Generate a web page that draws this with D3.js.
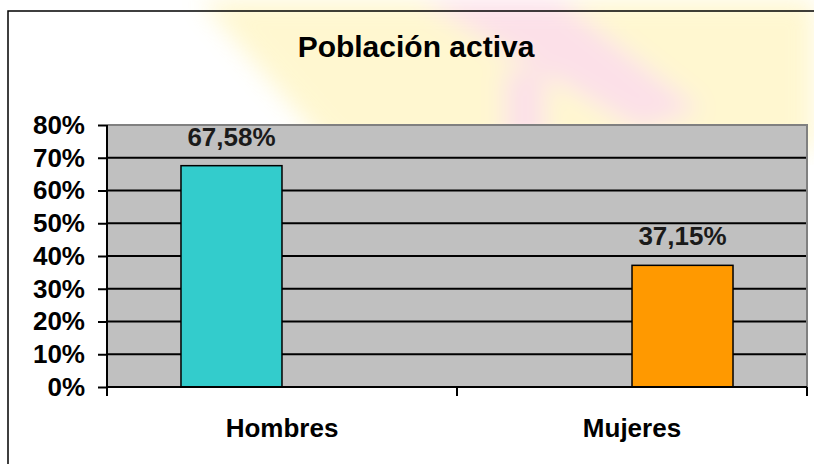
<!DOCTYPE html>
<html>
<head>
<meta charset="utf-8">
<script src="https://cdn.jsdelivr.net/npm/d3@7"></script>
<style>
  body { margin: 0; background: #fff; }
  svg { display: block; font-family: "Liberation Sans", Arial, sans-serif; }
</style>
</head>
<body>
<div id="chart"></div>
<script>
// data
var categories = ["Hombres", "Mujeres"];
var values = [0.6758, 0.3715];
var colors = ["#33CCCC", "#FF9900"];
var yTicks = [0, 0.1, 0.2, 0.3, 0.4, 0.5, 0.6, 0.7, 0.8];
var title = "Población activa";

var width = 814, height = 464;
var plot = {left: 107, right: 807, top: 125, bottom: 387};

var svg = d3.select("#chart").append("svg")
    .attr("width", width)
    .attr("height", height);

// faint watermark behind the chart
var defs = svg.append("defs");
defs.append("filter").attr("id", "soft")
    .append("feGaussianBlur").attr("stdDeviation", 12);
var wm = svg.append("g").attr("filter", "url(#soft)").attr("opacity", 0.35);
wm.append("path")
    .attr("d", "M200,0 L814,0 L814,150 L330,150 Z")
    .attr("fill", "#ffe97a");
wm.append("path")
    .attr("d", "M420,0 L560,0 L700,110 L640,130 Z")
    .attr("fill", "#f7a8c0");
wm.append("path")
    .attr("d", "M505,70 L545,70 L545,150 L505,150 Z")
    .attr("fill", "#f7a8c0");

// outer chart border (runs off right and bottom)
svg.append("rect")
    .attr("x", 8).attr("y", 11)
    .attr("width", 830).attr("height", 480)
    .attr("fill", "none")
    .attr("stroke", "#000")
    .attr("stroke-width", 1.5);

var y = d3.scaleLinear()
    .domain([0, 0.8])
    .range([plot.bottom, plot.top]);

var x = d3.scaleBand()
    .domain(categories)
    .range([plot.left, plot.right]);

// bar centres sit off the band centres in the original
var xBar = d3.scalePoint()
    .domain(categories)
    .range([plot.left, plot.right])
    .padding(0.276);
var barWidth = 101;

var esFormat = d3.formatLocale({decimal: ",", thousands: ".", grouping: [3], currency: ["", "€"]});
var pct2 = esFormat.format(".2%");

// plot background
svg.append("rect")
    .attr("x", plot.left).attr("y", plot.top)
    .attr("width", plot.right - plot.left)
    .attr("height", plot.bottom - plot.top)
    .attr("fill", "#C0C0C0");

// gridlines
svg.append("g")
    .selectAll("line")
    .data(yTicks.filter(function(d) { return d > 0 && d < 0.8; }))
    .enter().append("line")
    .attr("x1", plot.left).attr("x2", plot.right)
    .attr("y1", function(d) { return y(d); })
    .attr("y2", function(d) { return y(d); })
    .attr("stroke", "#000")
    .attr("stroke-width", 2);

// top / right border of plot area
svg.append("path")
    .attr("d", "M" + plot.left + "," + y(0.8) + "H" + plot.right + "V" + plot.bottom)
    .attr("fill", "none")
    .attr("stroke", "#808080")
    .attr("stroke-width", 2);

// bars
svg.append("g")
    .selectAll("rect")
    .data(values)
    .enter().append("rect")
    .attr("x", function(d, i) { return xBar(categories[i]) - barWidth / 2; })
    .attr("y", function(d) { return y(d); })
    .attr("width", barWidth)
    .attr("height", function(d) { return y(0) - y(d); })
    .attr("fill", function(d, i) { return colors[i]; })
    .attr("stroke", "#000")
    .attr("stroke-width", 1.5);

// value labels
svg.append("g")
    .selectAll("text")
    .data(values)
    .enter().append("text")
    .attr("x", function(d, i) { return xBar(categories[i]); })
    .attr("y", function(d) { return y(d) - 20; })
    .attr("text-anchor", "middle")
    .attr("font-size", 26)
    .attr("font-weight", "bold")
    .attr("fill", "#1a1a1a")
    .text(function(d) { return pct2(d); });

// y axis
var yAxis = d3.axisLeft(y)
    .tickValues(yTicks)
    .tickSize(9)
    .tickPadding(13)
    .tickFormat(d3.format(".0%"));

var gy = svg.append("g")
    .attr("transform", "translate(" + plot.left + ",0)")
    .call(yAxis);
gy.select(".domain").remove();
gy.selectAll(".tick line").attr("stroke", "#000").attr("stroke-width", 2);
gy.selectAll(".tick text")
    .attr("font-family", "Liberation Sans, Arial, sans-serif")
    .attr("font-size", 26)
    .attr("font-weight", "bold")
    .attr("fill", "#000");

svg.append("line")
    .attr("x1", plot.left).attr("x2", plot.left)
    .attr("y1", plot.top).attr("y2", plot.bottom + 9)
    .attr("stroke", "#000").attr("stroke-width", 2);

// x axis line and category ticks at band edges
svg.append("line")
    .attr("x1", plot.left).attr("x2", plot.right)
    .attr("y1", y(0)).attr("y2", y(0))
    .attr("stroke", "#000").attr("stroke-width", 2);

var edges = categories.map(function(c) { return x(c); }).concat([x(categories[categories.length - 1]) + x.bandwidth()]);
svg.append("g")
    .selectAll("line")
    .data(edges)
    .enter().append("line")
    .attr("x1", function(d) { return d; })
    .attr("x2", function(d) { return d; })
    .attr("y1", y(0))
    .attr("y2", y(0) + 9)
    .attr("stroke", "#000")
    .attr("stroke-width", 2);

// category labels
svg.append("g")
    .selectAll("text")
    .data(categories)
    .enter().append("text")
    .attr("x", function(d) { return x(d) + x.bandwidth() / 2; })
    .attr("y", 437)
    .attr("text-anchor", "middle")
    .attr("font-size", 26)
    .attr("font-weight", "bold")
    .attr("fill", "#000")
    .text(function(d) { return d; });

// title
svg.append("text")
    .attr("x", 416)
    .attr("y", 57)
    .attr("text-anchor", "middle")
    .attr("font-size", 30)
    .attr("font-weight", "bold")
    .attr("fill", "#000")
    .text(title);
</script>
</body>
</html>
